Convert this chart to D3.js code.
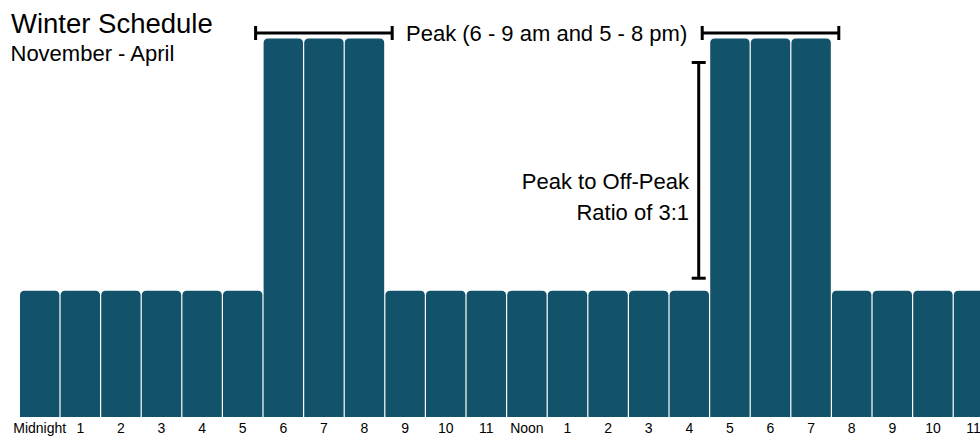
<!DOCTYPE html>
<html>
<head>
<meta charset="utf-8">
<script src="https://cdn.jsdelivr.net/npm/d3@7"></script>
<style>
  html, body { margin: 0; padding: 0; background: #fff; overflow: hidden; }
  svg { display: block; font-family: "Liberation Sans", Arial, sans-serif; }
</style>
</head>
<body>
<svg id="chart" width="980" height="436"></svg>
<script>
// Hour-of-day labels along the bottom
const hours = ["Midnight", "1", "2", "3", "4", "5", "6", "7", "8", "9", "10", "11",
               "Noon", "1 ", "2 ", "3 ", "4 ", "5 ", "6 ", "7 ", "8 ", "9 ", "10 ", "11 "];
// Relative rate for each hour (off-peak = 1, peak = 3)
const rates = [1, 1, 1, 1, 1, 1, 3, 3, 3, 1, 1, 1,
               1, 1, 1, 1, 1, 3, 3, 3, 1, 1, 1, 1];
// Peak windows as [first hour index, last hour index]
const peakWindows = [[6, 8], [17, 19]];

const title = "Winter Schedule";
const subtitle = "November - April";
const peakLabel = "Peak (6 - 9 am and 5 - 8 pm)";
const ratioLines = ["Peak to Off-Peak", "Ratio of 3:1"];

const barColor = "#12536b";

const svg = d3.select("#chart");

const x = d3.scaleBand()
  .domain(hours)
  .range([20, 993.2])
  .paddingInner(0.03);

const y = d3.scaleLinear()
  .domain([0, 3])
  .range([417, 38.5]);

const bw = x.bandwidth();
const r = 4.5;

// Bars with rounded top corners only
function barPath(x0, y0, w, h) {
  const y1 = y0 + h;
  return `M${x0},${y1}V${y0 + r}Q${x0},${y0} ${x0 + r},${y0}` +
         `H${x0 + w - r}Q${x0 + w},${y0} ${x0 + w},${y0 + r}V${y1}Z`;
}

svg.append("g")
  .selectAll("path")
  .data(hours)
  .join("path")
  .attr("fill", barColor)
  .attr("d", (h, i) => barPath(x(h), y(rates[i]), bw, y(0) - y(rates[i])));

// Hour axis
const axis = svg.append("g")
  .attr("transform", `translate(0,${y(0)})`)
  .call(d3.axisBottom(x).tickSize(0).tickPadding(6).tickFormat(d => d.trim()));
axis.select(".domain").remove();
axis.selectAll("text")
  .attr("font-size", 14)
  .attr("font-family", "Liberation Sans, Arial, sans-serif")
  .attr("fill", "#000");

// Title block
svg.append("text")
  .attr("x", 11).attr("y", 32.7)
  .attr("font-size", 27.5)
  .attr("fill", "#000")
  .text(title);
svg.append("text")
  .attr("x", 10.5).attr("y", 60.5)
  .attr("font-size", 22)
  .attr("fill", "#000")
  .text(subtitle);

// Peak-window brackets above the tall bars
const bracketY = 33;
const cap = 7;
const ann = svg.append("g")
  .attr("stroke", "#000")
  .attr("stroke-width", 3)
  .attr("fill", "none");

peakWindows.forEach(([a, b]) => {
  const x0 = x(hours[a]) - 8;
  const x1 = x(hours[b]) + bw + 8;
  ann.append("line").attr("x1", x0).attr("x2", x1).attr("y1", bracketY).attr("y2", bracketY);
  ann.append("line").attr("x1", x0).attr("x2", x0).attr("y1", bracketY - cap).attr("y2", bracketY + cap);
  ann.append("line").attr("x1", x1).attr("x2", x1).attr("y1", bracketY - cap).attr("y2", bracketY + cap);
});

svg.append("text")
  .attr("x", 406).attr("y", 40.5)
  .attr("font-size", 22)
  .attr("fill", "#000")
  .text(peakLabel);

// Vertical ratio bracket beside the evening peak
const vx = x(hours[17]) - 11.5;
const vTop = y(2.81);
const vBot = y(1.1);
ann.append("line").attr("x1", vx).attr("x2", vx).attr("y1", vTop).attr("y2", vBot);
ann.append("line").attr("x1", vx - 7).attr("x2", vx + 7).attr("y1", vTop).attr("y2", vTop);
ann.append("line").attr("x1", vx - 7).attr("x2", vx + 7).attr("y1", vBot).attr("y2", vBot);

svg.append("g")
  .selectAll("text")
  .data(ratioLines)
  .join("text")
  .attr("x", 689)
  .attr("y", (d, i) => 188.5 + i * 31)
  .attr("text-anchor", "end")
  .attr("font-size", 22)
  .attr("fill", "#000")
  .text(d => d);
</script>
</body>
</html>
